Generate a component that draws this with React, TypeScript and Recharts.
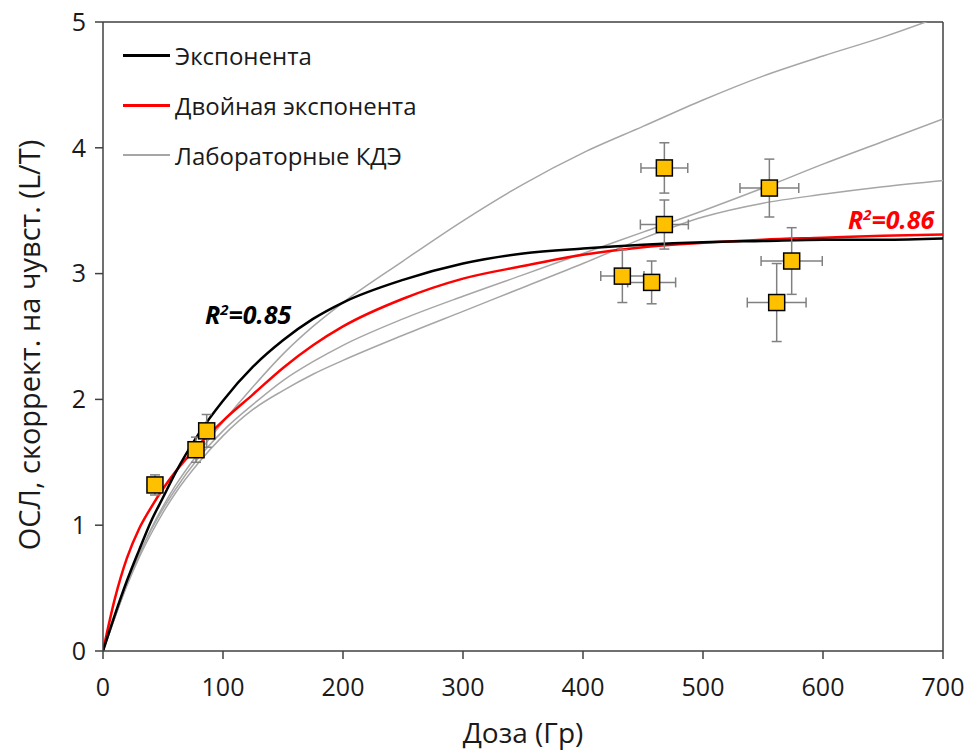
import {
  ComposedChart,
  Line,
  Scatter,
  ErrorBar,
  XAxis,
  YAxis,
  ReferenceLine,
} from "recharts"

const FONT = "'Open Sans', sans-serif"

// dose grid (Gy) used by all curves
const doses = [0, 10, 20, 30, 40, 50, 60, 80, 100, 125, 150, 175, 200, 250, 300, 350, 400, 450, 500, 550, 600, 650, 700]

const expValues = [0, 0.29, 0.56, 0.8, 1.03, 1.22, 1.41, 1.73, 1.99, 2.26, 2.47, 2.64, 2.77, 2.95, 3.08, 3.16, 3.2, 3.23, 3.25, 3.26, 3.27, 3.27, 3.28]
const doubleExpValues = [0, 0.42, 0.74, 0.97, 1.14, 1.29, 1.42, 1.64, 1.83, 2.04, 2.25, 2.43, 2.58, 2.8, 2.96, 3.06, 3.15, 3.21, 3.245, 3.27, 3.285, 3.3, 3.31]
const lab1Values = [0, 0.27, 0.53, 0.76, 0.97, 1.15, 1.31, 1.58, 1.82, 2.1, 2.36, 2.58, 2.77, 3.1, 3.42, 3.71, 3.96, 4.17, 4.38, 4.57, 4.73, 4.88, 5.05]
const lab2Values = [0, 0.27, 0.53, 0.76, 0.96, 1.13, 1.28, 1.54, 1.75, 1.96, 2.15, 2.3, 2.43, 2.64, 2.82, 2.99, 3.16, 3.33, 3.5, 3.68, 3.87, 4.05, 4.23]
const lab3Values = [0, 0.27, 0.52, 0.74, 0.93, 1.1, 1.25, 1.5, 1.71, 1.92, 2.07, 2.2, 2.31, 2.51, 2.7, 2.89, 3.08, 3.28, 3.45, 3.56, 3.63, 3.69, 3.74]

// measured points
const pointDose = [43.3, 77.5, 86.4, 432.8, 457.2, 467.8, 467.8, 555.3, 573.9, 561.4]
const pointSignal = [1.32, 1.6, 1.75, 2.98, 2.93, 3.84, 3.39, 3.68, 3.1, 2.77]
const pointDoseErr = [3, 3, 3, 18, 20, 19.5, 20, 24.5, 25.5, 24.5]
const pointSignalErr = [0.08, 0.1, 0.13, 0.21, 0.17, 0.2, 0.195, 0.23, 0.265, 0.31]

const xTicks = [0, 100, 200, 300, 400, 500, 600, 700]
const yTicks = [0, 1, 2, 3, 4, 5]

const toCurve = (values: number[]) => doses.map((x, i) => ({ x, y: values[i] }))

const expCurve = toCurve(expValues)
const doubleExpCurve = toCurve(doubleExpValues)
const lab1 = toCurve(lab1Values)
const lab2 = toCurve(lab2Values)
const lab3 = toCurve(lab3Values)

const points = pointDose.map((x, i) => ({
  x,
  y: pointSignal[i],
  ex: pointDoseErr[i],
  ey: pointSignalErr[i],
}))

const legendItems = [
  { label: "Экспонента", color: "#000000", width: 3 },
  { label: "Двойная экспонента", color: "#ff0000", width: 3 },
  { label: "Лабораторные КДЭ", color: "#a6a6a6", width: 1.5 },
]

function SquareMarker(props: any) {
  const { cx, cy } = props
  return <rect x={cx - 8} y={cy - 8} width={16} height={16} fill="#ffc000" stroke="#000" strokeWidth={1.5} />
}

const axisStroke = "#404040"
const textColor = "#1a1a1a"

const r2Style = {
  position: "absolute" as const,
  fontFamily: FONT,
  fontSize: 25,
  fontWeight: 700,
  fontStyle: "italic",
  lineHeight: "30px",
}

export default function App() {
  return (
    <div style={{ position: "absolute", left: 0, top: 0, width: 968, height: 753, background: "#fff" }}>
      <ComposedChart width={968} height={753} margin={{ top: 22, right: 25, left: 0, bottom: 0 }}>
        <XAxis
          type="number"
          dataKey="x"
          domain={[0, 700]}
          ticks={xTicks}
          tickSize={8}
          tickMargin={19}
          height={102}
          stroke={axisStroke}
          strokeWidth={1.5}
          tick={{ fill: textColor, fontSize: 25, fontFamily: FONT }}
          allowDataOverflow
          label={{ value: "Доза (Гр)", position: "insideBottom", offset: 10, fill: textColor, fontSize: 28, fontFamily: FONT }}
        />
        <YAxis
          type="number"
          dataKey="y"
          domain={[0, 5]}
          ticks={yTicks}
          tickSize={8}
          tickMargin={9}
          width={103}
          stroke={axisStroke}
          strokeWidth={1.5}
          tick={{ fill: textColor, fontSize: 25, fontFamily: FONT }}
          allowDataOverflow
        />
        <ReferenceLine y={5} stroke={axisStroke} strokeWidth={1.5} />
        <ReferenceLine x={700} stroke={axisStroke} strokeWidth={1.5} />
        <Line data={lab1} dataKey="y" type="monotone" stroke="#a6a6a6" strokeWidth={1.5} dot={false} isAnimationActive={false} />
        <Line data={lab2} dataKey="y" type="monotone" stroke="#a6a6a6" strokeWidth={1.5} dot={false} isAnimationActive={false} />
        <Line data={lab3} dataKey="y" type="monotone" stroke="#a6a6a6" strokeWidth={1.5} dot={false} isAnimationActive={false} />
        <Line data={doubleExpCurve} dataKey="y" type="monotone" stroke="#ff0000" strokeWidth={2.5} dot={false} isAnimationActive={false} />
        <Line data={expCurve} dataKey="y" type="monotone" stroke="#000000" strokeWidth={2.5} dot={false} isAnimationActive={false} />
        <Scatter data={points} dataKey="y" shape={<SquareMarker />} isAnimationActive={false}>
          <ErrorBar dataKey="ex" direction="x" width={5} stroke="#808080" strokeWidth={1.5} />
          <ErrorBar dataKey="ey" direction="y" width={5} stroke="#808080" strokeWidth={1.5} />
        </Scatter>
      </ComposedChart>
      <div
        style={{
          position: "absolute",
          left: 29,
          top: 345,
          transform: "translate(-50%, -50%) rotate(-90deg)",
          whiteSpace: "nowrap",
          fontFamily: FONT,
          fontSize: 29,
          lineHeight: "36px",
          color: textColor,
        }}
      >
        ОСЛ, скоррект. на чувст. (L/T)
      </div>
      <div style={{ position: "absolute", left: 123, top: 30, fontFamily: FONT, fontSize: 24, color: textColor }}>
        {legendItems.map((item) => (
          <div key={item.label} style={{ display: "flex", alignItems: "center", height: 50 }}>
            <div style={{ width: 47, height: item.width, background: item.color, marginRight: 5 }} />
            <span>{item.label}</span>
          </div>
        ))}
      </div>
      <div style={{ ...r2Style, left: 205, top: 294, color: "#000" }}>
        R<sup style={{ fontSize: 15 }}>2</sup>=0.85
      </div>
      <div style={{ ...r2Style, left: 848, top: 199, color: "#ff0000" }}>
        R<sup style={{ fontSize: 15 }}>2</sup>=0.86
      </div>
    </div>
  )
}
